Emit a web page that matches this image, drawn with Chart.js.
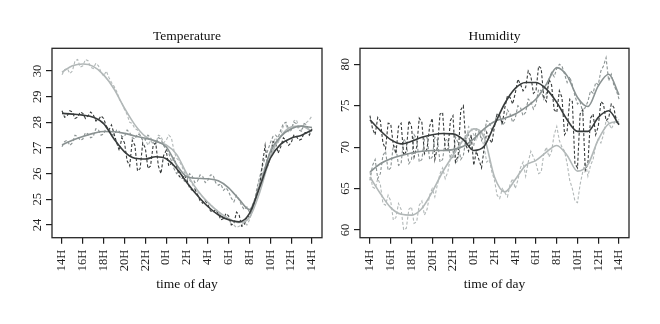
<!DOCTYPE html>
<html><head><meta charset="utf-8">
<script src="https://cdn.jsdelivr.net/npm/chart.js@4"></script>
<style>
html,body{margin:0;padding:0;background:#fff;}
#wrap{position:relative;width:660px;height:324px;background:#fff;}
.c{position:absolute;top:0;width:330px;height:324px;}
</style></head><body>
<div id="wrap">
<div class="c" style="left:0"><canvas id="tempChart" width="330" height="324"></canvas></div>
<div class="c" style="left:330px"><canvas id="humChart" width="330" height="324"></canvas></div>
</div>
<script>
// ---- data ----
const tickHours = [0,2,4,6,8,10,12,14,16,18,20,22,24];
const tickLabels = ['14H','16H','18H','20H','22H','0H','2H','4H','6H','8H','10H','12H','14H'];
const tempTicks = [24,25,26,27,28,29,30];
const humTicks = [60,65,70,75,80];

const smoothHours = [0,1,2,3,4,5,6,7,8,9,10,11,12,13,14,15,16,17,18,19,20,21,22,23,24];
const rawHours = [
  0,0.25,0.5,0.75, 1,1.25,1.5,1.75, 2,2.25,2.5,2.75, 3,3.25,3.5,3.75,
  4,4.25,4.5,4.75, 5,5.25,5.5,5.75, 6,6.25,6.5,6.75, 7,7.25,7.5,7.75,
  8,8.25,8.5,8.75, 9,9.25,9.5,9.75, 10,10.25,10.5,10.75, 11,11.25,11.5,11.75,
  12,12.25,12.5,12.75, 13,13.25,13.5,13.75, 14,14.25,14.5,14.75, 15,15.25,15.5,15.75,
  16,16.25,16.5,16.75, 17,17.25,17.5,17.75, 18,18.25,18.5,18.75, 19,19.25,19.5,19.75,
  20,20.25,20.5,20.75, 21,21.25,21.5,21.75, 22,22.25,22.5,22.75, 23,23.25,23.5,23.75, 24];

const tempDarkRaw = [
  28.45,28.2,28.25,28.45, 28.4,28.15,28.2,28.4, 28.35,28.15,28.25,28.4, 28.3,28.05,28.1,28.25,
  28.15,27.85,27.7,27.9, 27.55,27.2,26.9,27.4, 27.2,26.5,26.3,27.3, 27.1,26.1,26.2,27.2,
  27.0,26.2,26.3,27.1, 27.2,26.3,26.0,26.7, 26.9,26.3,26.4,26.6, 26.3,25.9,25.8,25.95,
  25.75,25.45,25.35,25.4, 25.2,24.95,24.85,24.95, 24.8,24.55,24.5,24.6, 24.45,24.2,24.25,24.45,
  24.35,24.0,24.05,24.5, 24.4,23.95,24.0,24.35, 24.3,24.55,24.9,25.3, 25.6,26.4,27.1,26.3,
  26.6,27.25,27.2,26.8, 27.05,27.4,27.3,27.1, 27.2,27.5,27.45,27.3, 27.35,27.6,27.6,27.5, 27.75];
const tempMidRaw = [
  27.05,27.25,27.3,27.1, 27.2,27.5,27.45,27.3, 27.35,27.6,27.55,27.4, 27.45,27.75,27.7,27.5,
  27.55,27.8,27.75,27.55, 27.5,27.7,27.65,27.45, 27.45,27.7,27.6,27.4, 27.35,27.55,27.5,27.3,
  27.3,27.5,27.4,27.2, 27.15,27.4,27.35,27.1, 26.95,26.8,26.5,26.2, 26.0,26.1,25.95,25.7,
  25.75,26.0,25.9,25.65, 25.7,25.95,25.9,25.65, 25.75,25.95,25.95,25.65, 25.55,25.6,25.35,25.45,
  25.3,25.05,24.9,25.15, 25.0,24.75,24.6,24.7, 24.5,24.75,25.0,25.5, 25.9,26.3,26.6,26.9,
  27.2,27.45,27.5,27.4, 27.7,27.95,28.0,27.75, 27.7,28.0,27.95,27.7, 27.65,27.95,27.9,27.6, 27.7];
const tempLightRaw = [
  29.85,30.05,30.1,29.9, 30.0,30.4,30.45,30.15, 30.2,30.45,30.4,30.15, 30.1,30.3,30.2,29.95,
  29.8,30.0,29.75,29.55, 29.4,29.2,28.9,28.75, 28.5,28.3,28.0,27.95, 27.75,27.7,27.5,27.3,
  27.35,27.1,27.3,27.15, 27.15,27.5,27.45,27.2, 27.3,27.5,27.4,26.9, 26.6,26.5,26.3,26.05,
  25.9,25.75,25.6,25.4, 25.3,25.2,25.1,24.95, 24.9,24.8,24.7,24.6, 24.55,24.4,24.3,24.25,
  24.2,24.05,24.0,23.9, 23.95,24.0,24.1,24.0, 24.2,24.5,24.9,25.35, 25.8,26.0,26.3,26.6,
  26.9,27.2,27.4,27.2, 27.5,27.85,27.9,27.6, 27.7,28.05,28.1,27.8, 27.7,27.95,28.0,28.1, 28.25];
const tempDarkSmooth = [28.35,28.32,28.28,28.2,27.95,27.35,26.85,26.6,26.57,26.66,26.58,26.2,25.65,25.15,24.72,24.4,24.2,24.12,24.45,25.5,26.6,27.15,27.38,27.5,27.7];
const tempMidSmooth = [27.12,27.3,27.45,27.57,27.64,27.63,27.57,27.47,27.38,27.27,27.05,26.35,25.88,25.82,25.8,25.72,25.45,25.0,24.6,25.55,26.85,27.45,27.75,27.85,27.8];
const tempLightSmooth = [29.95,30.2,30.27,30.18,29.85,29.3,28.55,27.9,27.45,27.25,27.12,26.75,25.98,25.35,24.88,24.52,24.25,24.1,24.3,25.3,26.65,27.45,27.82,27.85,27.65];

const humDarkRaw = [
  73.8,72.2,71.5,73.6, 73.2,70.5,69.8,72.9, 72.8,70.3,69.2,72.5, 72.9,69.0,69.5,73.2,
  72.5,68.8,70.0,73.5, 73.0,69.2,69.8,72.5, 73.5,68.5,70.0,74.0, 74.2,69.8,69.5,73.2,
  73.8,68.2,69.0,74.5, 75.0,70.2,69.5,71.5, 67.8,69.5,68.5,67.5, 69.8,71.8,71.0,70.5,
  72.5,74.0,73.8,72.8, 74.8,76.2,76.0,75.2, 76.5,78.2,77.6,76.8, 77.2,79.2,78.6,76.5,
  76.8,79.8,79.5,76.0, 75.5,78.2,77.5,74.5, 74.2,76.8,76.0,71.5, 72.0,75.8,75.5,68.0,
  67.5,74.0,74.5,67.2, 68.0,73.5,74.0,71.5, 72.5,75.5,75.2,73.2, 73.5,75.2,74.8,73.0, 72.8];
const humMidRaw = [
  66.0,67.8,68.5,66.2, 66.8,69.0,69.5,67.2, 67.5,70.2,70.0,67.8, 68.0,71.0,70.5,68.0,
  68.5,71.5,71.0,68.2, 68.5,71.0,71.2,68.5, 68.8,71.2,70.8,68.2, 68.5,70.8,71.0,68.6,
  68.8,71.2,70.5,68.5, 69.0,71.0,71.5,69.8, 70.2,72.2,72.0,70.8, 71.5,73.2,73.0,72.0,
  72.8,74.0,73.8,72.6, 73.0,74.5,74.0,73.0, 73.5,75.0,74.8,73.8, 74.2,75.8,75.5,74.6,
  75.2,77.0,76.8,75.8, 76.5,78.2,79.0,78.5, 79.5,80.0,79.8,78.8, 77.8,78.5,77.5,76.2,
  75.2,75.5,74.2,74.8, 75.5,76.8,76.5,77.8, 77.5,79.2,79.8,80.8, 78.0,78.8,77.5,76.8, 75.8];
const humLightRaw = [
  67.0,65.2,65.0,66.2, 65.5,63.2,63.0,64.2, 63.5,61.2,61.5,63.2, 62.5,60.0,60.2,62.5,
  62.8,60.8,61.0,63.0, 63.5,61.8,62.5,64.2, 65.0,64.0,65.5,66.8, 67.5,66.2,67.0,68.8,
  69.5,68.0,68.5,70.5, 71.0,70.2,72.5,72.2, 71.5,70.8,72.0,71.2, 70.0,68.2,68.5,67.0,
  66.0,64.2,63.8,65.0, 64.5,64.0,65.5,66.2, 65.0,66.0,67.5,68.2, 66.5,68.2,69.5,68.8,
  68.0,66.8,67.0,69.2, 70.0,68.8,69.5,71.5, 72.5,70.8,70.0,69.5, 68.0,66.0,65.0,63.5,
  63.3,65.5,67.0,68.2, 66.5,67.8,68.5,70.2, 71.0,70.5,71.5,73.2, 73.0,72.2,72.8,73.6, 73.3];
const humDarkSmooth = [73.3,72.0,70.9,70.4,70.7,71.2,71.5,71.65,71.6,70.9,69.6,70.1,72.7,75.3,77.1,77.8,77.8,77.0,75.4,73.3,71.9,71.9,73.6,74.4,72.7];
const humMidSmooth = [67.0,68.0,68.6,69.0,69.3,69.5,69.6,69.6,69.7,70.1,71.0,72.2,73.1,73.5,74.0,74.8,75.8,77.6,79.6,78.6,76.0,74.9,77.4,78.8,76.3];
const humLightSmooth = [66.4,64.4,62.7,61.9,61.8,62.6,64.6,67.0,69.0,70.9,72.2,71.2,66.4,64.6,66.1,67.8,68.4,69.4,70.2,69.0,67.1,67.9,70.9,72.8,73.1];

// ---- styling ----
const FONT = "'Liberation Serif', 'DejaVu Serif', serif";
const DARK = '#373b3b', MID = '#8a9292', LIGHT = '#b2b8b8';
const INK = '#1e1e1e';

const boxPlugin = {
  id: 'box',
  afterDatasetsDraw(chart) {
    const a = chart.chartArea, ctx = chart.ctx;
    ctx.save();
    ctx.strokeStyle = '#262626';
    ctx.lineWidth = 1.3;
    ctx.strokeRect(a.left, a.top, a.right - a.left, a.bottom - a.top);
    ctx.restore();
  }
};

function series(xs, ys, color, raw) {
  return {
    data: xs.map((x, i) => ({x: x, y: ys[i]})),
    borderColor: color,
    borderWidth: raw ? 1.1 : 1.6,
    borderDash: raw ? [3, 2] : [],
    pointRadius: 0,
    tension: raw ? 0 : 0.4,
    cubicInterpolationMode: raw ? 'default' : 'monotone',
    fill: false,
    order: raw ? 2 : 1
  };
}

function zeroPad(s) { s.paddingLeft = 0; s.paddingRight = 0; s.paddingTop = 0; s.paddingBottom = 0; }

function makeChart(id, title, yMin, yMax, yTicks, yWidth, rightPad, sets) {
  return new Chart(document.getElementById(id), {
    type: 'line',
    data: { datasets: sets },
    plugins: [boxPlugin],
    options: {
      responsive: false,
      animation: false,
      devicePixelRatio: 1,
      layout: { padding: { left: 0, right: rightPad, top: 0, bottom: 0 } },
      plugins: {
        legend: { display: false },
        tooltip: { enabled: false },
        title: {
          display: true, text: title, fullSize: false, color: '#111',
          font: { family: FONT, size: 13.5, weight: 'normal', lineHeight: 1.2 },
          padding: { top: 28.6, bottom: 3.5 }
        }
      },
      scales: {
        x: {
          type: 'linear', min: -0.96, max: 24.96,
          afterBuildTicks: s => { s.ticks = tickHours.map(v => ({value: v})); },
          afterFit: s => { s.height = 86.3; zeroPad(s); },
          ticks: {
            autoSkip: false, minRotation: 90, maxRotation: 90, padding: 6, color: INK,
            font: { family: FONT, size: 12.5 },
            callback: v => tickLabels[tickHours.indexOf(v)]
          },
          grid: { drawOnChartArea: false, drawTicks: true, tickLength: 6, color: INK, lineWidth: 1.2 },
          border: { display: false },
          title: { display: true, text: 'time of day', color: '#111',
            font: { family: FONT, size: 13.5, lineHeight: 1.2 }, padding: { top: 0, bottom: 31 } }
        },
        y: {
          type: 'linear', min: yMin, max: yMax,
          afterBuildTicks: s => { s.ticks = yTicks.map(v => ({value: v})); },
          afterFit: s => { s.width = yWidth; zeroPad(s); },
          ticks: {
            minRotation: 90, maxRotation: 90, crossAlign: 'center', padding: 2, color: INK,
            font: { family: FONT, size: 12.5 }
          },
          grid: { drawOnChartArea: false, drawTicks: true, tickLength: 6, color: INK, lineWidth: 1.2 },
          border: { display: false }
        }
      }
    }
  });
}

makeChart('tempChart', 'Temperature', 23.505, 30.884, tempTicks, 52, 8, [
  series(smoothHours, tempDarkSmooth, DARK, false),
  series(smoothHours, tempMidSmooth, MID, false),
  series(smoothHours, tempLightSmooth, LIGHT, false),
  series(rawHours, tempDarkRaw, DARK, true),
  series(rawHours, tempMidRaw, MID, true),
  series(rawHours, tempLightRaw, LIGHT, true)
]);

makeChart('humChart', 'Humidity', 59.07, 81.93, humTicks, 30, 31, [
  series(smoothHours, humDarkSmooth, DARK, false),
  series(smoothHours, humMidSmooth, MID, false),
  series(smoothHours, humLightSmooth, LIGHT, false),
  series(rawHours, humDarkRaw, DARK, true),
  series(rawHours, humMidRaw, MID, true),
  series(rawHours, humLightRaw, LIGHT, true)
]);
</script>
</body></html>
